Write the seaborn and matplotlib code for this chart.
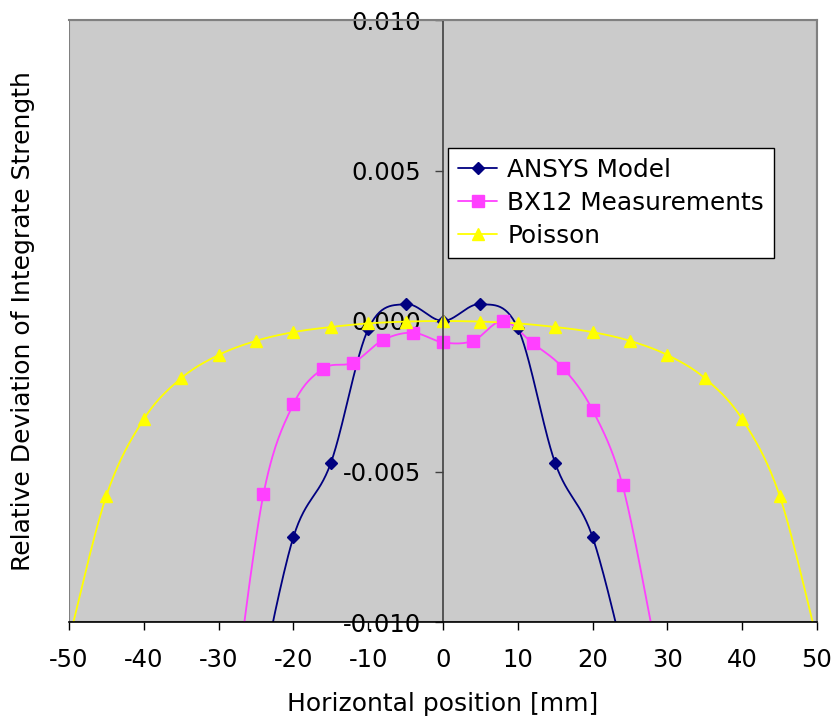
import numpy as np
import pandas as pd
import matplotlib
matplotlib.use("Agg")
import matplotlib.pyplot as plt
import seaborn as sns
from matplotlib.lines import Line2D
from matplotlib.patches import Rectangle

# ---- data ----
ansys_x = [-25, -20, -15, -10, -5, 0, 5, 10, 15, 20, 25]
ansys_y = [-0.0127, -0.00718, -0.00472, -0.00027, 0.00056, 0.0, 0.00056,
           -0.00023, -0.00472, -0.00718, -0.0120]

bx12_x = [-28, -24, -20, -16, -12, -8, -4, 0, 4, 8, 12, 16, 20, 24, 28]
bx12_y = [-0.0127, -0.00575, -0.00276, -0.00158, -0.00138, -0.00063, -0.00039,
          -0.00071, -0.00066, 0.0, -0.00074, -0.00155, -0.00296, -0.00545, -0.0103]

poisson_x = [-50, -45, -40, -35, -30, -25, -20, -15, -10, -5, 0,
             5, 10, 15, 20, 25, 30, 35, 40, 45, 50]
poisson_y = [-0.0106, -0.0058, -0.00326, -0.0019, -0.00113, -0.00066, -0.00037,
             -0.0002, -0.00008, -0.00002, 0.0, -0.00002, -0.00008, -0.0002,
             -0.00037, -0.00066, -0.00113, -0.0019, -0.00326, -0.0058, -0.0106]

series_names = ["ANSYS Model", "BX12 Measurements", "Poisson"]
x_ticks = [-50, -40, -30, -20, -10, 0, 10, 20, 30, 40, 50]
y_ticks = [-0.010, -0.005, 0.000, 0.005, 0.010]


def smooth(xs, ys, n=30):
    """Excel-style smoothed line (Catmull-Rom through the points)."""
    p = np.column_stack([xs, ys]).astype(float)
    p = np.vstack([p[0], p, p[-1]])
    out = []
    t = np.linspace(0, 1, n, endpoint=False)[:, None]
    for i in range(1, len(p) - 2):
        p0, p1, p2, p3 = p[i - 1], p[i], p[i + 1], p[i + 2]
        seg = 0.5 * ((2 * p1) + (-p0 + p2) * t
                     + (2 * p0 - 5 * p1 + 4 * p2 - p3) * t ** 2
                     + (-p0 + 3 * p1 - 3 * p2 + p3) * t ** 3)
        out.append(seg)
    out.append(p[-2][None, :])
    s = np.vstack(out)
    return s[:, 0], s[:, 1]


sns.set_theme(style="white")
plt.rcParams["font.family"] = ["DejaVu Sans"]
plt.rcParams["axes.unicode_minus"] = False
plt.rcParams["text.color"] = "black"
plt.rcParams["axes.labelcolor"] = "black"
plt.rcParams["xtick.color"] = "black"
plt.rcParams["ytick.color"] = "black"

fig = plt.figure(figsize=(8.39, 7.21), dpi=100)
ax = fig.add_axes([69 / 839, (721 - 622) / 721, 748 / 839, 602 / 721])
ax.set_facecolor("#CBCBCB")

colors = ["#000080", "#FF40FF", "#FFFF00"]
markers = ["D", "s", "^"]
msizes = [6, 8, 9]
data = [(ansys_x, ansys_y), (bx12_x, bx12_y), (poisson_x, poisson_y)]

handles = []
for (xs, ys), c, m, ms, name in zip(data, colors, markers, msizes, series_names):
    sx, sy = smooth(xs, ys)
    df = pd.DataFrame({"x": sx, "y": sy})
    sns.lineplot(data=df, x="x", y="y", sort=False, estimator=None,
                 color=c, lw=1.3, ax=ax, zorder=2)
    ax.plot(xs, ys, linestyle="none", marker=m, markersize=ms, color=c,
            markeredgecolor=c, zorder=2.2)
    handles.append(Line2D([0], [0], color=c, lw=1.3, marker=m,
                          markersize=ms, markeredgecolor=c, label=name))

ax.set_xlim(-50, 50)
ax.set_ylim(-0.010, 0.010)
ax.set_xticks(x_ticks)
ax.set_xticklabels([str(v) for v in x_ticks])
ax.set_yticks(y_ticks)
ax.set_yticklabels([f"{v:.3f}" for v in y_ticks])

# spines: y axis through x = 0, plot area border gray
ax.spines["left"].set_position(("data", 0))
ax.spines["left"].set_color("#404040")
ax.spines["left"].set_linewidth(1.2)
ax.spines["bottom"].set_color("black")
ax.spines["bottom"].set_linewidth(1.2)
ax.spines["top"].set_color("#808080")
ax.spines["right"].set_color("#808080")
ax.spines["top"].set_linewidth(1.5)
ax.spines["right"].set_linewidth(1.5)
ax.add_patch(Rectangle((0, 0), 1, 1, transform=ax.transAxes, fill=False,
                       edgecolor="#808080", lw=1.5, zorder=0.5))

ax.tick_params(axis="x", direction="out", length=6, width=1, color="black",
               labelsize=17.5, pad=13, bottom=True, labelcolor="black")
ax.tick_params(axis="y", direction="out", length=6, width=1, color="#404040",
               labelsize=17.5, pad=10, left=True, labelcolor="black")

ax.set_xlabel("Horizontal position [mm]", fontsize=18, labelpad=14, color="black")
ax.set_ylabel("Relative Deviation of Integrate Strength", fontsize=18, color="black")
ax.yaxis.set_label_coords(-0.045, 0.5)

leg = ax.legend(handles=handles, loc="upper left",
                bbox_to_anchor=((448 - 69) / 748, (622 - 148) / 602),
                borderaxespad=0, fontsize=17.8, frameon=True, fancybox=False,
                edgecolor="black", facecolor="white", framealpha=1,
                handlelength=1.6, handletextpad=0.4, labelspacing=0.36,
                borderpad=0.4)
leg.get_frame().set_linewidth(1.0)
for t in leg.get_texts():
    t.set_color("black")

fig.savefig("out.png", dpi=100)
